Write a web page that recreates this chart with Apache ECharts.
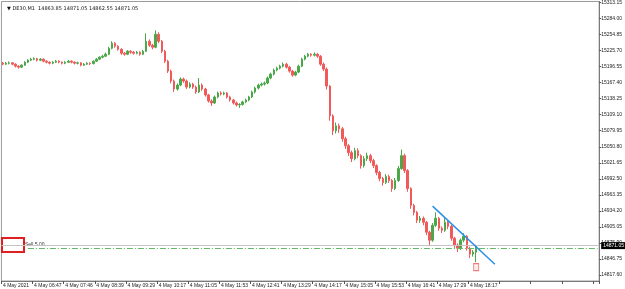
<!DOCTYPE html>
<html>
<head>
<meta charset="utf-8">
<script src="https://cdn.jsdelivr.net/npm/echarts@6/dist/echarts.min.js"></script>
<style>
html,body{margin:0;padding:0;background:#fff;}
#chart{width:625px;height:289px;}
</style>
</head>
<body>
<div id="chart"></div>
<script>
// ---- data ----
const titleText = '\u25BC DE30,M1  14863.85 14871.05 14862.55 14871.05';
const timeLabels = ['4 May 2021','4 May 06:47','4 May 07:46','4 May 08:39','4 May 09:29','4 May 10:17','4 May 11:05','4 May 11:53','4 May 12:41','4 May 13:29','4 May 14:17','4 May 15:05','4 May 15:53','4 May 16:41','4 May 17:29','4 May 18:17'];
const yTicks = [15313.15,15284.00,15254.85,15225.70,15196.55,15167.40,15138.25,15109.10,15079.95,15050.80,15021.65,14992.50,14963.35,14934.20,14905.05,14875.90,14846.75,14817.60];

const opens = [
15203.0,15201.0,15202.8,15203.5,15201.0,15197.4,15195.6,15199.2,15204.6,15208.3,
15210.1,15211.0,15208.3,15210.1,15206.4,15204.6,15202.8,15204.6,15206.4,15204.6,
15202.8,15204.6,15206.4,15204.6,15202.8,15203.5,15199.2,15201.0,15202.8,15202.0,
15206.4,15210.1,15213.7,15215.5,15219.1,15230.0,15239.0,15233.6,15228.1,15220.9,
15219.1,15224.5,15222.7,15220.9,15222.7,15219.1,15224.5,15242.6,15235.4,15231.8,
15255.3,15242.6,15224.5,15206.4,15188.4,15170.3,15155.8,15163.0,15173.9,15170.3,
15159.4,15164.8,15159.4,15150.4,15163.0,15155.8,15145.0,15134.1,15130.5,15141.3,
15148.6,15146.8,15148.6,15141.3,15135.9,15130.5,15126.9,15127.8,15132.3,15135.9,
15141.3,15150.4,15157.6,15163.0,15164.8,15166.7,15175.7,15182.9,15190.2,15193.8,
15197.4,15201.0,15195.6,15188.4,15181.1,15186.6,15197.4,15210.1,15215.5,15219.1,
15217.3,15219.1,15215.5,15201.0,15192.0,15161.2,15107.0,15079.8,15088.9,15083.5,
15065.4,15052.7,15040.1,15029.2,15043.7,15034.6,15016.5,15029.2,15034.6,15025.6,
15016.5,15003.9,14993.0,14985.8,14996.6,14989.4,14974.9,14989.4,15011.1,15034.6,
15007.5,14974.9,14944.2,14931.5,14917.1,14920.7,14913.5,14895.4,14880.9,14908.0,
14920.7,14902.6,14899.0,14913.5,14906.2,14884.5,14871.9,14866.4,14880.9,14888.1,
14866.4,14855.6,14859.2];
const closes = [
15201.0,15202.8,15203.5,15201.0,15197.4,15195.6,15199.2,15204.6,15208.3,15210.1,
15211.0,15208.3,15210.1,15206.4,15204.6,15202.8,15204.6,15206.4,15204.6,15202.8,
15204.6,15206.4,15204.6,15202.8,15203.5,15199.2,15201.0,15202.8,15202.0,15206.4,
15210.1,15213.7,15215.5,15219.1,15230.0,15239.0,15233.6,15228.1,15220.9,15219.1,
15224.5,15222.7,15220.9,15222.7,15219.1,15224.5,15242.6,15235.4,15231.8,15255.3,
15242.6,15224.5,15206.4,15188.4,15170.3,15155.8,15163.0,15173.9,15170.3,15159.4,
15164.8,15159.4,15150.4,15163.0,15155.8,15145.0,15134.1,15130.5,15141.3,15148.6,
15146.8,15148.6,15141.3,15135.9,15130.5,15126.9,15127.8,15132.3,15135.9,15141.3,
15150.4,15157.6,15163.0,15164.8,15166.7,15175.7,15182.9,15190.2,15193.8,15197.4,
15201.0,15195.6,15188.4,15181.1,15186.6,15197.4,15210.1,15215.5,15219.1,15217.3,
15219.1,15215.5,15201.0,15192.0,15161.2,15107.0,15079.8,15088.9,15083.5,15065.4,
15052.7,15040.1,15029.2,15043.7,15034.6,15016.5,15029.2,15034.6,15025.6,15016.5,
15003.9,14993.0,14985.8,14996.6,14989.4,14974.9,14989.4,15011.1,15034.6,15007.5,
14974.9,14944.2,14931.5,14917.1,14920.7,14913.5,14895.4,14880.9,14908.0,14920.7,
14902.6,14899.0,14913.5,14906.2,14884.5,14871.9,14866.4,14880.9,14888.1,14866.4,
14855.6,14859.2,14871.05];
const lows = [
15199.0,15199.5,15200.5,15199.0,15195.0,15193.0,15194.0,15198.0,15203.0,15206.5,
15208.0,15206.0,15206.5,15204.5,15202.5,15200.5,15201.0,15203.0,15202.5,15200.5,
15201.0,15203.0,15202.5,15200.5,15200.5,15197.0,15197.5,15199.5,15199.5,15200.5,
15205.0,15208.5,15211.5,15214.0,15217.5,15228.0,15231.0,15225.5,15218.0,15216.5,
15217.5,15220.0,15218.5,15219.0,15216.5,15217.5,15223.0,15232.5,15228.0,15230.0,
15239.0,15221.0,15203.0,15185.0,15166.0,15150.4,15153.0,15161.0,15167.0,15156.0,
15157.0,15156.0,15147.0,15148.5,15152.5,15142.0,15131.0,15125.1,15128.5,15139.0,
15144.0,15144.5,15138.5,15133.0,15127.5,15124.0,15121.4,15125.5,15130.0,15133.5,
15139.5,15148.0,15155.0,15160.5,15162.0,15164.5,15173.5,15180.5,15188.0,15191.5,
15195.0,15193.0,15185.5,15178.0,15179.0,15184.5,15195.5,15208.0,15213.5,15214.5,
15215.0,15212.5,15198.0,15188.5,15155.0,15098.0,15072.0,15075.0,15076.0,15060.0,
15047.0,15034.0,15023.0,15026.0,15030.0,15011.0,15013.0,15025.0,15021.0,15012.0,
14999.0,14988.0,14980.0,14983.0,14985.0,14969.0,14972.0,14987.0,15009.0,15003.0,
14969.0,14938.0,14926.0,14912.0,14912.5,14908.0,14890.0,14871.9,14878.0,14905.0,
14898.0,14894.0,14896.0,14901.0,14880.0,14867.0,14859.2,14863.0,14877.0,14862.0,
14848.3,14851.0,14841.1];
const highs = [
15205.0,15205.0,15206.0,15205.0,15202.5,15199.0,15201.0,15206.5,15210.0,15212.5,
15213.5,15212.5,15212.0,15211.5,15208.0,15206.0,15206.5,15208.5,15208.0,15206.0,
15206.5,15208.5,15208.0,15206.0,15205.5,15204.5,15203.0,15204.5,15204.5,15208.0,
15212.0,15215.5,15218.0,15222.0,15232.5,15242.6,15241.0,15235.5,15230.0,15223.0,
15226.5,15226.5,15225.0,15225.0,15224.5,15227.0,15257.1,15246.0,15238.0,15262.5,
15259.0,15245.0,15227.0,15209.0,15191.0,15173.0,15166.0,15177.0,15176.5,15173.0,
15168.0,15167.0,15162.0,15175.7,15166.0,15158.0,15147.0,15137.0,15144.0,15151.0,
15151.5,15151.0,15150.5,15143.5,15138.0,15133.0,15130.0,15134.5,15138.5,15143.5,
15153.0,15160.0,15165.5,15167.5,15169.5,15178.5,15185.5,15193.0,15196.5,15200.0,
15204.0,15203.5,15198.0,15190.5,15189.0,15200.0,15212.5,15218.0,15221.5,15221.0,
15222.5,15221.5,15217.5,15204.0,15195.0,15163.0,15110.0,15095.0,15093.0,15087.0,
15069.0,15056.0,15044.0,15049.0,15048.0,15037.0,15034.0,15040.0,15038.0,15029.0,
15019.0,15007.0,14996.0,15001.0,15000.0,14992.0,14994.0,15016.0,15045.5,15038.0,
15010.0,14977.0,14947.0,14934.0,14925.0,14924.0,14916.0,14898.0,14912.0,14931.5,
14923.0,14906.0,14922.5,14916.0,14909.0,14887.0,14875.0,14884.0,14893.6,14890.0,
14869.0,14863.0,14872.5];

const bidPrice = 14871.05;
const orderPrice = 14867.0;
const orderLabel = 'Sell 5.00';
const trendLine = [[138, 14942.8], [158, 14837.2]];
const tradeMark = [[152, 14832.0]];

const slotCount = 192;   // visible bar slots incl. right shift
const labelEvery = 10;
const yMin = 14806.7, yMax = 15315.0;

// ---- build ----
const categories = [];
for (let i = 0; i < slotCount; i++) categories.push('b' + i);
const candles = opens.map((o, i) => [o, closes[i], lows[i], highs[i]]);

const chart = echarts.init(document.getElementById('chart'), null, {renderer: 'canvas'});
const font = 'Liberation Sans, Arial, sans-serif';

chart.setOption({
  animation: false,
  backgroundColor: '#ffffff',
  title: {
    text: titleText, left: 2, top: 1,
    textStyle: {fontSize: 5, fontWeight: 'normal', color: '#111', fontFamily: 'DejaVu Sans, sans-serif'}
  },
  grid: {left: 0, right: 20, top: 0, bottom: 8, show: true, borderColor: '#9a9a9a', borderWidth: 1, backgroundColor: '#fff'},
  xAxis: {
    type: 'category', data: categories, boundaryGap: true,
    axisLine: {lineStyle: {color: '#7a7a7a', width: 1}},
    axisTick: {show: true, interval: labelEvery - 1, length: 3, lineStyle: {color: '#555'}},
    axisLabel: {
      interval: labelEvery - 1, align: 'left', margin: 2, fontSize: 5, color: '#222', fontFamily: font,
      formatter: (v, i) => (i % labelEvery === 0 && timeLabels[i / labelEvery]) ? timeLabels[i / labelEvery] : ''
    },
    splitLine: {show: false}
  },
  yAxis: {
    type: 'value', position: 'right', min: yMin, max: yMax, scale: true,
    axisLine: {show: true, lineStyle: {color: '#7a7a7a', width: 1}},
    axisTick: {show: true, length: 2, inside: false, customValues: yTicks, lineStyle: {color: '#555'}},
    axisLabel: {customValues: yTicks, fontSize: 5, color: '#222', margin: 2, fontFamily: font, formatter: v => v.toFixed(2)},
    splitLine: {show: false}
  },
  series: [
    {
      type: 'candlestick', data: candles, barWidth: 2,
      itemStyle: {color: '#4aa84a', color0: '#f05a5a', borderColor: '#4aa84a', borderColor0: '#f05a5a', borderWidth: 1},
      markLine: {
        silent: true, symbol: 'none', animation: false,
        data: [
          {yAxis: bidPrice, lineStyle: {color: '#c4c4c4', type: 'solid', width: 1},
           label: {show: true, position: 'end', distance: 2, formatter: bidPrice.toFixed(2), backgroundColor: '#000', color: '#fff', fontSize: 5, padding: [1, 2], fontFamily: font}},
          [{coord: [8, orderPrice], lineStyle: {color: '#66b866', type: [6, 2, 1, 2], width: 1}, label: {show: false}},
           {coord: [slotCount - 1, orderPrice]}]
        ]
      }
    },
    {
      type: 'line', data: trendLine, symbol: 'circle', symbolSize: 3,
      lineStyle: {color: '#2b8fe8', width: 1.5}, itemStyle: {color: '#2b8fe8'}, z: 5
    },
    {
      type: 'scatter', data: tradeMark, symbol: 'rect', symbolSize: [5, 7],
      itemStyle: {color: '#ffe8e8', borderColor: '#e85a5a', borderWidth: 1}, z: 6
    }
  ],
  graphic: [
    {type: 'rect', left: 1, top: 237, shape: {width: 22, height: 14}, style: {fill: '#fff', stroke: '#e02020', lineWidth: 2}},
    {type: 'text', left: 25, top: 242, style: {text: orderLabel, fontSize: 5, fill: '#333', fontFamily: font}}
  ]
});
</script>
</body>
</html>
